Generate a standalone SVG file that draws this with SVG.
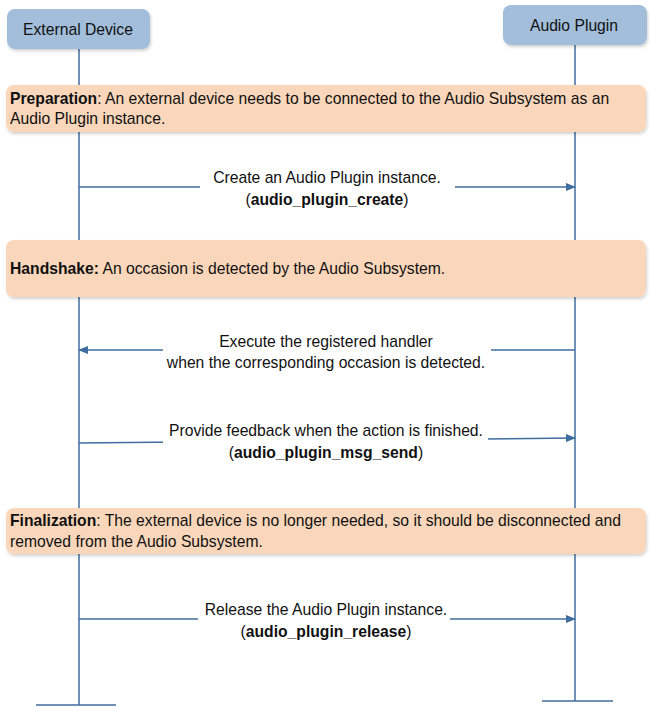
<svg xmlns="http://www.w3.org/2000/svg" width="650" height="711" viewBox="0 0 650 711">
<defs>
<marker id="ah" markerWidth="10" markerHeight="8" refX="9" refY="4" orient="auto" markerUnits="userSpaceOnUse"><path d="M0,0 L10,4 L0,8 Z" fill="#3f6e9e"/></marker>
<filter id="sh" x="-5%" y="-20%" width="110%" height="150%"><feDropShadow dx="1" dy="2" stdDeviation="1.5" flood-color="#000" flood-opacity="0.18"/></filter>
</defs>
<style>
text{font-family:"Liberation Sans",Arial,sans-serif;font-size:15.7px;fill:#111}
.b{font-weight:bold}
.life{stroke:#3f6e9e;stroke-width:1.5;fill:none}
.actor{fill:#a2bedb;filter:url(#sh)}
.note{fill:#fad7bb;filter:url(#sh)}
.msg{stroke:#3f6e9e;stroke-width:1.5;fill:none;marker-end:url(#ah)}
.c{text-anchor:middle}
</style>
<g id="lifelines">
<line class="life" x1="79" y1="49" x2="79" y2="705"/>
<line class="life" x1="36" y1="705" x2="116" y2="705"/>
<line class="life" x1="575" y1="45" x2="575" y2="701"/>
<line class="life" x1="542" y1="701" x2="613" y2="701"/>
</g>
<g id="external-device"><rect class="actor" x="7" y="9" width="143" height="40" rx="8"/><text class="c" x="78" y="35">External Device</text></g>
<g id="audio-plugin"><rect class="actor" x="503" y="5" width="144" height="40" rx="8"/><text class="c" x="574" y="31">Audio Plugin</text></g>
<g id="note-preparation"><rect class="note" x="6" y="85" width="640" height="47" rx="8"/>
<text x="10" y="104"><tspan class="b">Preparation</tspan>: An external device needs to be connected to the Audio Subsystem as an</text>
<text x="10" y="124">Audio Plugin instance.</text></g>
<g id="note-handshake"><rect class="note" x="6" y="240" width="640" height="57" rx="8"/>
<text x="10" y="274"><tspan class="b">Handshake:</tspan> An occasion is detected by the Audio Subsystem.</text></g>
<g id="note-finalization"><rect class="note" x="6" y="508" width="640" height="46" rx="8"/>
<text x="10" y="526"><tspan class="b">Finalization</tspan>: The external device is no longer needed, so it should be disconnected and</text>
<text x="10" y="547">removed from the Audio Subsystem.</text></g>
<g id="connectors">
<line class="msg" x1="79" y1="187" x2="575" y2="187"/>
<line class="msg" x1="575" y1="350" x2="79" y2="350"/>
<line class="msg" x1="79" y1="443" x2="575" y2="438"/>
<line class="msg" x1="79" y1="619" x2="575" y2="619"/>
</g>
<g id="labels">
<rect x="200" y="168" width="255" height="40" fill="#fff"/>
<text class="c" x="327" y="183">Create an Audio Plugin instance.</text>
<text class="c" x="327" y="205">(<tspan class="b">audio_plugin_create</tspan>)</text>
<rect x="163" y="331" width="328" height="40" fill="#fff"/>
<text class="c" x="326" y="347">Execute the registered handler</text>
<text class="c" x="326" y="368">when the corresponding occasion is detected.</text>
<rect x="163" y="420" width="325" height="40" fill="#fff"/>
<text class="c" x="326" y="436">Provide feedback when the action is finished.</text>
<text class="c" x="326" y="458">(<tspan class="b">audio_plugin_msg_send</tspan>)</text>
<rect x="198" y="600" width="252" height="40" fill="#fff"/>
<text class="c" x="326" y="615">Release the Audio Plugin instance.</text>
<text class="c" x="326" y="637">(<tspan class="b">audio_plugin_release</tspan>)</text>
</g>
</svg>
